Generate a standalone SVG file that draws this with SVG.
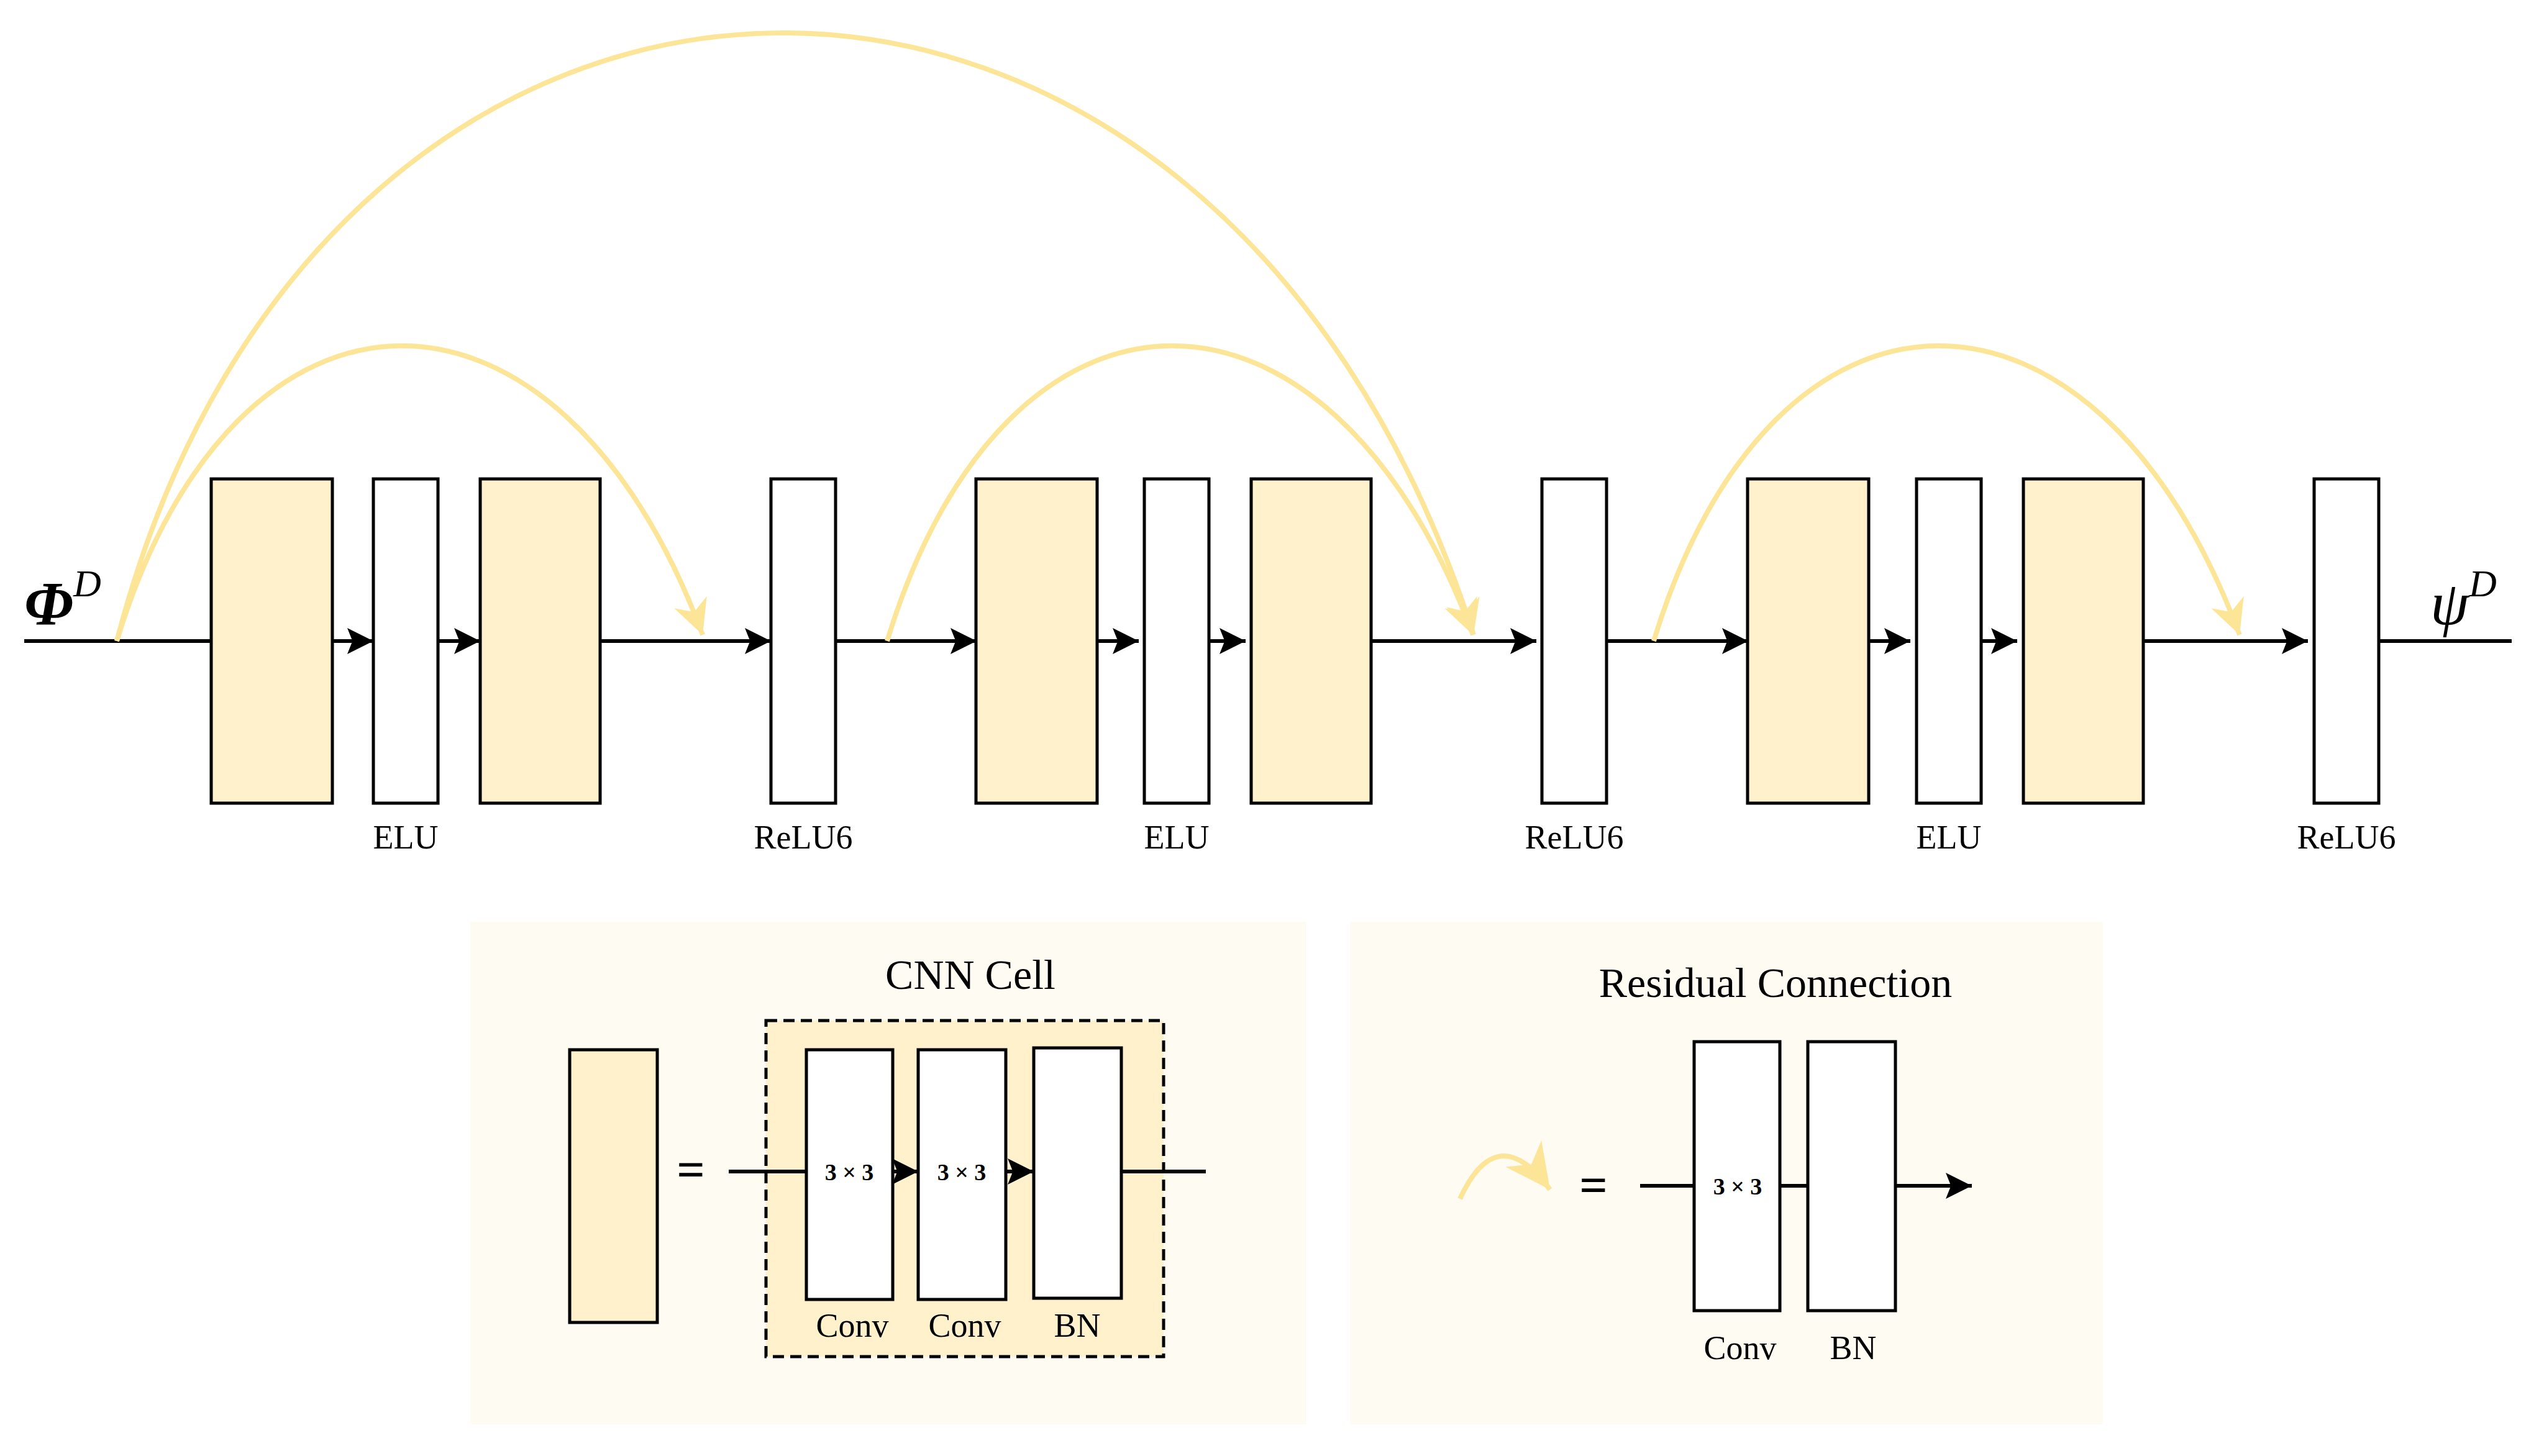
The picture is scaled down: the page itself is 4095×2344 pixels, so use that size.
<svg xmlns="http://www.w3.org/2000/svg" width="4095" height="2344" viewBox="0 0 4095 2344">
<style>
.ln{stroke:#000;stroke-width:6;fill:none}
.cell{fill:#fef1cc;stroke:#000;stroke-width:5}
.act{fill:#fff;stroke:#000;stroke-width:5}
.arc{stroke:#fde598;stroke-width:8;fill:none}
.t{font-family:"Liberation Serif",serif;fill:#000}
.lab{font-size:54px;text-anchor:middle}
.panel{fill:#fefbf2}
</style>
<defs>
<marker id="ba" viewBox="0 0 10 10" refX="10" refY="5" markerWidth="7" markerHeight="7" markerUnits="strokeWidth" orient="auto"><path d="M0,0 L10,5 L0,10 L2,5z" fill="#000"/></marker>
<marker id="ya" viewBox="0 0 10 10" refX="10" refY="5" markerWidth="7" markerHeight="7" markerUnits="strokeWidth" orient="auto"><path d="M0,0 L10,5 L0,10 L3,5z" fill="#fde598"/></marker>
<marker id="yb" viewBox="0 0 10 10" refX="10" refY="5" markerWidth="9" markerHeight="9" markerUnits="strokeWidth" orient="auto"><path d="M0,0 L10,5 L0,10 L3,5z" fill="#fde598"/></marker>
</defs>
<g id="connectors">
<line class="ln" x1="39" y1="1032" x2="340" y2="1032"/>
<g id="seg">
<line class="ln" x1="535" y1="1032" x2="601" y2="1032" marker-end="url(#ba)"/>
<line class="ln" x1="705" y1="1032" x2="773" y2="1032" marker-end="url(#ba)"/>
<line class="ln" x1="966" y1="1032" x2="1241" y2="1032" marker-end="url(#ba)"/>
</g>
<use href="#seg" transform="translate(1232,0)"/>
<use href="#seg" transform="translate(2474,0)"/>
<line class="ln" x1="1345" y1="1032" x2="1572" y2="1032" marker-end="url(#ba)"/>
<line class="ln" x1="2577" y1="1032" x2="2814" y2="1032" marker-end="url(#ba)"/>
<line class="ln" x1="3819" y1="1032" x2="4043" y2="1032"/>
<path id="sarc" class="arc" d="M188,1032 C380,400 900,400 1131,1022" marker-end="url(#ya)"/>
<use href="#sarc" transform="translate(1240,0)"/>
<use href="#sarc" transform="translate(2474,0)"/>
<path class="arc" d="M188,1032 C520,-250 1950,-293 2372,1022" marker-end="url(#ya)"/>
</g>
<g id="block1">
<rect class="cell" x="340" y="771" width="195" height="522"/>
<rect class="act" x="601" y="771" width="104" height="522"/>
<rect class="cell" x="773" y="771" width="193" height="522"/>
<rect class="act" x="1241" y="771" width="104" height="522"/>
<text class="t lab" x="653" y="1366">ELU</text>
<text class="t lab" x="1293" y="1366">ReLU6</text>
</g>
<g id="block2" transform="translate(1241,0)">
<rect class="cell" x="330" y="771" width="195" height="522"/>
<rect class="act" x="601" y="771" width="104" height="522"/>
<rect class="cell" x="773" y="771" width="193" height="522"/>
<rect class="act" x="1241" y="771" width="104" height="522"/>
<text class="t lab" x="653" y="1366">ELU</text>
<text class="t lab" x="1293" y="1366">ReLU6</text>
</g>
<g id="block3" transform="translate(2484,0)">
<rect class="cell" x="329" y="771" width="195" height="522"/>
<rect class="act" x="601" y="771" width="104" height="522"/>
<rect class="cell" x="773" y="771" width="193" height="522"/>
<rect class="act" x="1241" y="771" width="104" height="522"/>
<text class="t lab" x="653" y="1366">ELU</text>
<text class="t lab" x="1293" y="1366">ReLU6</text>
</g>
<g id="io">
<text class="t" x="39" y="1005" font-size="100" font-style="italic" font-weight="bold">Φ<tspan font-size="62" dy="-45" font-weight="normal">D</tspan></text>
<text class="t" x="3912" y="1005" font-size="100" font-style="italic">ψ<tspan font-size="62" dy="-45">D</tspan></text>
</g>
<g id="cnn-cell">
<rect class="panel" x="757" y="1484" width="1346" height="809"/>
<text class="t" x="1562" y="1592" font-size="68" text-anchor="middle">CNN Cell</text>
<rect class="cell" x="917" y="1690" width="141" height="439"/>
<text class="t" x="1112" y="1910" font-size="80" text-anchor="middle" font-weight="bold">=</text>
<rect x="1233" y="1643" width="640" height="541" fill="#fef1cc" stroke="#000" stroke-width="5" stroke-dasharray="18,10"/>
<line class="ln" x1="1173" y1="1886" x2="1298" y2="1886" stroke-width="5"/>
<line class="ln" x1="1437" y1="1886" x2="1478" y2="1886" stroke-width="5" marker-end="url(#ba)"/>
<line class="ln" x1="1619" y1="1886" x2="1664" y2="1886" stroke-width="5" marker-end="url(#ba)"/>
<line class="ln" x1="1805" y1="1886" x2="1941" y2="1886" stroke-width="5"/>
<rect class="act" x="1298" y="1690" width="139" height="402"/>
<rect class="act" x="1478" y="1690" width="141" height="402"/>
<rect class="act" x="1664" y="1687" width="141" height="403"/>
<text class="t" x="1367" y="1900" font-size="38" text-anchor="middle" font-weight="bold">3 × 3</text>
<text class="t" x="1548" y="1900" font-size="38" text-anchor="middle" font-weight="bold">3 × 3</text>
<text class="t lab" x="1372" y="2152" font-size="48">Conv</text>
<text class="t lab" x="1553" y="2152" font-size="48">Conv</text>
<text class="t lab" x="1734" y="2152" font-size="48">BN</text>
</g>
<g id="residual">
<rect class="panel" x="2173" y="1484" width="1212" height="809"/>
<text class="t" x="2858" y="1605" font-size="68" text-anchor="middle">Residual Connection</text>
<path class="arc" d="M2350,1930 Q2410,1800 2495,1915" marker-end="url(#yb)"/>
<text class="t" x="2565" y="1935" font-size="80" text-anchor="middle" font-weight="bold">=</text>
<line class="ln" x1="2640" y1="1909" x2="3174" y2="1909" marker-end="url(#ba)"/>
<rect class="act" x="2727" y="1677" width="138" height="433"/>
<rect class="act" x="2910" y="1677" width="141" height="433"/>
<text class="t" x="2797" y="1923" font-size="38" text-anchor="middle" font-weight="bold">3 × 3</text>
<text class="t lab" x="2801" y="2188" font-size="48">Conv</text>
<text class="t lab" x="2983" y="2188" font-size="48">BN</text>
</g>
</svg>
